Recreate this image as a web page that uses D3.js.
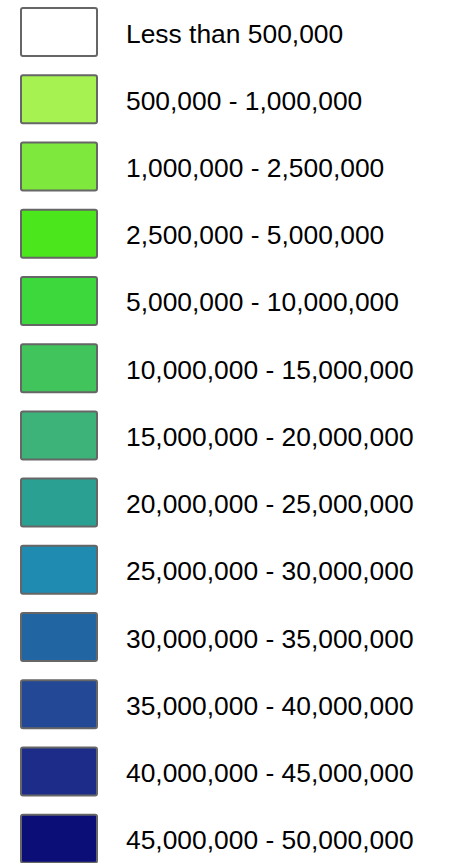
<!DOCTYPE html>
<html><head><meta charset="utf-8">
<script src="https://cdn.jsdelivr.net/npm/d3@7"></script>
<style>html,body{margin:0;padding:0;background:#fff;}</style>
</head><body>
<script>
const labels = ["Less than 500,000","500,000 - 1,000,000","1,000,000 - 2,500,000","2,500,000 - 5,000,000","5,000,000 - 10,000,000","10,000,000 - 15,000,000","15,000,000 - 20,000,000","20,000,000 - 25,000,000","25,000,000 - 30,000,000","30,000,000 - 35,000,000","35,000,000 - 40,000,000","40,000,000 - 45,000,000","45,000,000 - 50,000,000"];
const colors = ["#ffffff","#a6f251","#7ee83c","#4ce61c","#3dd83c","#40c45b","#3db37a","#2aa093","#1f8bb0","#2166a2","#234896","#1c2c88","#0c0e78"];

const W = 454, H = 863;
const svg = d3.select("body").append("svg").attr("width", W).attr("height", H);
const y = d3.scaleBand().domain(labels).range([0, 874]).paddingInner(0).paddingOuter(0);
const g = svg.selectAll("g.item").data(labels).join("g").attr("class","item")
  .attr("transform", d => `translate(0,${y(d)})`);
g.append("rect").attr("x", 21).attr("y", 8).attr("width", 76).attr("height", 48)
  .attr("rx", 2).attr("fill", (d,i) => colors[i]).attr("stroke", "#666").attr("stroke-width", 2);
g.append("text").attr("x", 126).attr("y", 42.5).text(d => d)
  .attr("font-family", "Liberation Sans, Arial, sans-serif").attr("font-size", 26.4).attr("fill", "#000");
</script>
</body></html>
